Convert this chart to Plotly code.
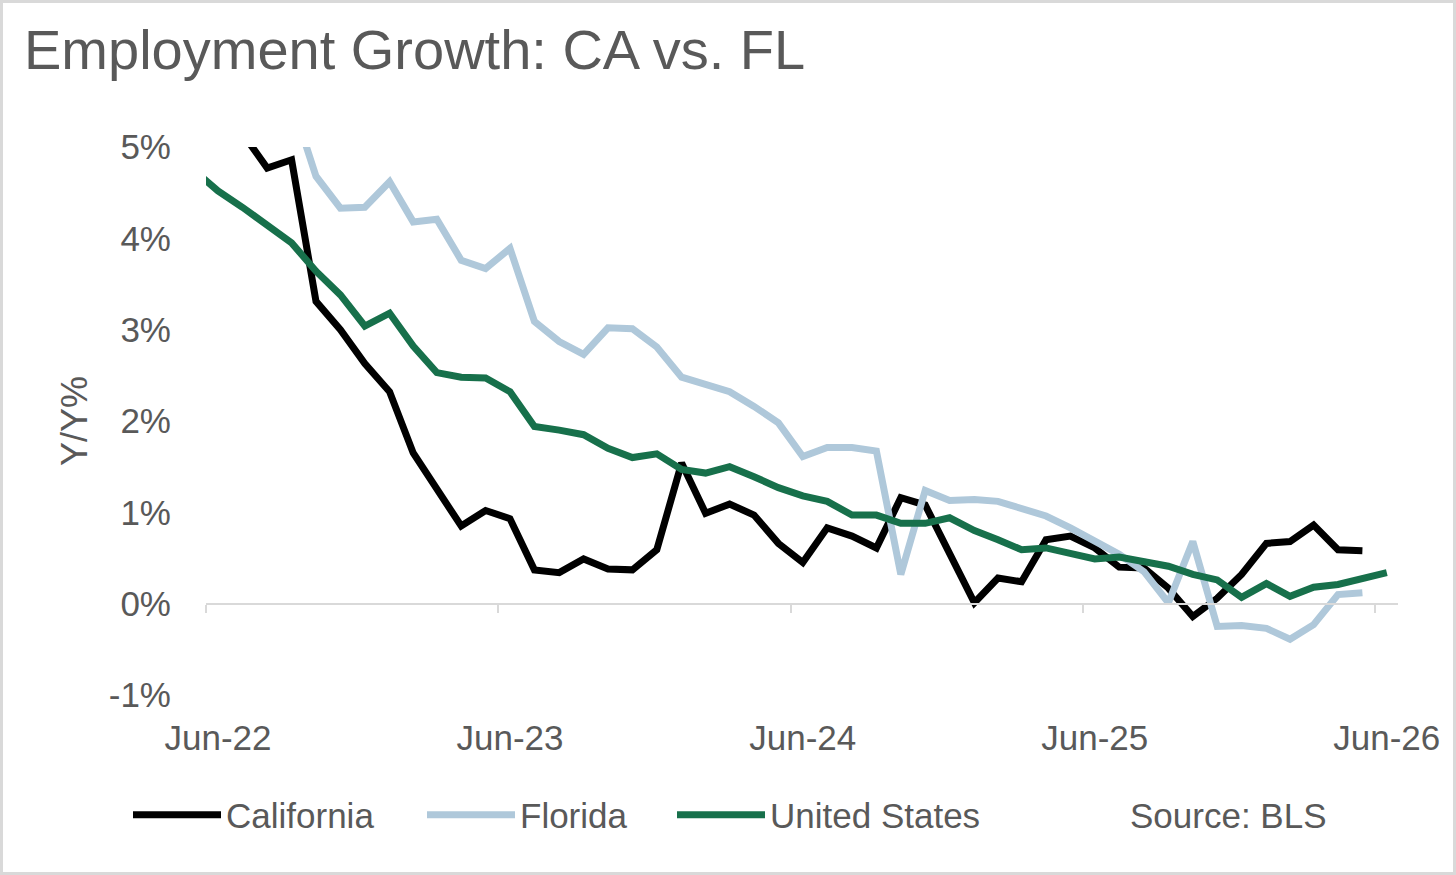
import plotly.graph_objects as go
import pandas as pd

# monthly observations, May-22 .. Jun-26 (May-22 sits just left of the axis and gets clipped)
months = pd.date_range("2022-05-01", periods=50, freq="MS")

california = [None, 5.60, 5.15, 4.77, 4.86, 3.31, 3.00, 2.63, 2.32, 1.65, 1.25, 0.85, 1.02, 0.93,
              0.37, 0.34, 0.49, 0.38, 0.37, 0.59, 1.54, 0.99, 1.09, 0.97, 0.66, 0.45, 0.83, 0.74,
              0.61, 1.16, 1.08, 0.55, 0.01, 0.28, 0.24, 0.70, 0.74, 0.61, 0.40, 0.39, 0.17, -0.14,
              0.06, 0.32, 0.66, 0.68, 0.86, 0.59, 0.58, None]
florida = [None, 6.90, 6.40, 6.00, 5.50, 4.68, 4.33, 4.34, 4.62, 4.18, 4.21, 3.76, 3.67, 3.89,
           3.09, 2.87, 2.73, 3.02, 3.01, 2.81, 2.48, 2.40, 2.32, 2.16, 1.98, 1.61, 1.71, 1.71,
           1.67, 0.32, 1.24, 1.13, 1.14, 1.12, 1.05, 0.96, 0.83, 0.68, 0.54, 0.35, 0.01, 0.68,
           -0.25, -0.24, -0.27, -0.39, -0.23, 0.10, 0.12, None]
united_states = [4.75, 4.52, 4.34, 4.15, 3.95, 3.64, 3.38, 3.04, 3.18, 2.82, 2.53, 2.48, 2.47, 2.32,
                 1.94, 1.90, 1.85, 1.70, 1.60, 1.64, 1.47, 1.43, 1.50, 1.39, 1.27, 1.18, 1.12, 0.97,
                 0.97, 0.88, 0.88, 0.94, 0.80, 0.70, 0.59, 0.61, 0.55, 0.49, 0.51, 0.46, 0.41, 0.32,
                 0.26, 0.07, 0.22, 0.08, 0.18, 0.21, 0.28, 0.34]

y_ticks = [-1, 0, 1, 2, 3, 4, 5]
y_labels = ["-1%", "0%", "1%", "2%", "3%", "4%", "5%"]

# name, values, colour, legend id, legend left edge (px)
series = [
    ("California", california, "#000000", "legend", 128),
    ("Florida", florida, "#AFC8DA", "legend2", 422),
    ("United States", united_states, "#17704B", "legend3", 672),
]

TXT = "#595959"
FONT = "Liberation Sans, Arial, sans-serif"
W, H = 1456, 875
ML, MR, MT, MB = 206, 58, 147, 180
PW, PH = W - ML - MR, H - MT - MB
LEG_Y = -(815 - (H - MB)) / PH

fig = go.Figure()
for name, vals, col, leg, _ in series:
    fig.add_trace(go.Scatter(
        x=months, y=vals, name=name, mode="lines",
        xperiod="M1", xperiodalignment="middle",
        line=dict(color=col, width=7),
        legend=leg,
    ))

# empty trace so the tick-mark axis at 0% gets drawn
fig.add_trace(go.Scatter(x=[months[1]], y=[None], xaxis="x2", showlegend=False, hoverinfo="skip"))

xrange = ["2022-06-01", "2026-06-30"]

legends = {}
for name, vals, col, leg, left in series:
    legends[leg] = dict(orientation="h", x=(left - ML) / PW, xanchor="left", y=LEG_Y,
                        yanchor="middle", font=dict(size=35, color=TXT, family=FONT),
                        itemwidth=88, bgcolor="rgba(0,0,0,0)")

fig.update_layout(
    width=W, height=H,
    margin=dict(l=ML, r=MR, t=MT, b=MB),
    paper_bgcolor="white", plot_bgcolor="white",
    font=dict(family=FONT, size=35, color=TXT),
    title=dict(text="Employment Growth: CA vs. FL", x=24 / W, xanchor="left", xref="container",
               y=1 - 49 / H, yref="container", yanchor="middle",
               font=dict(size=56, color=TXT, family=FONT)),
    xaxis=dict(type="date", range=xrange, tick0="2022-06-16", dtick="M12", tickformat="%b-%y",
               showgrid=False, showline=False, zeroline=False, ticks="",
               ticklabelstandoff=19, tickfont=dict(size=35, color=TXT)),
    xaxis2=dict(type="date", range=xrange, overlaying="x", anchor="free", position=1 / 6,
                tick0="2022-06-01", dtick="M12", ticks="outside", ticklen=8, tickwidth=2,
                tickcolor="#D9D9D9", showline=True, linecolor="#D9D9D9", linewidth=2,
                showticklabels=False, showgrid=False, zeroline=False),
    yaxis=dict(range=[-1, 5], tickvals=y_ticks, ticktext=y_labels, showgrid=False, zeroline=False,
               showline=False, ticks="", ticklabelstandoff=34, tickfont=dict(size=35, color=TXT),
               title=dict(text="Y/Y%", font=dict(size=36, color=TXT), standoff=10)),
    annotations=[dict(text="Source: BLS", xref="paper", yref="paper", x=(1128 - ML) / PW,
                      xanchor="left", y=LEG_Y, yanchor="middle", showarrow=False,
                      font=dict(size=35, color=TXT))],
    shapes=[dict(type="rect", xref="paper", yref="paper",
                 x0=(1.5 - ML) / PW, x1=(W - 1.5 - ML) / PW,
                 y0=-(MB - 1.5) / PH, y1=(H - MB - 1.5) / PH,
                 line=dict(color="#D9D9D9", width=3), layer="below")],
    showlegend=True,
    **legends,
)

fig.write_html("out.html", config={"displayModeBar": False},
               post_script="document.body.style.margin='0';")
